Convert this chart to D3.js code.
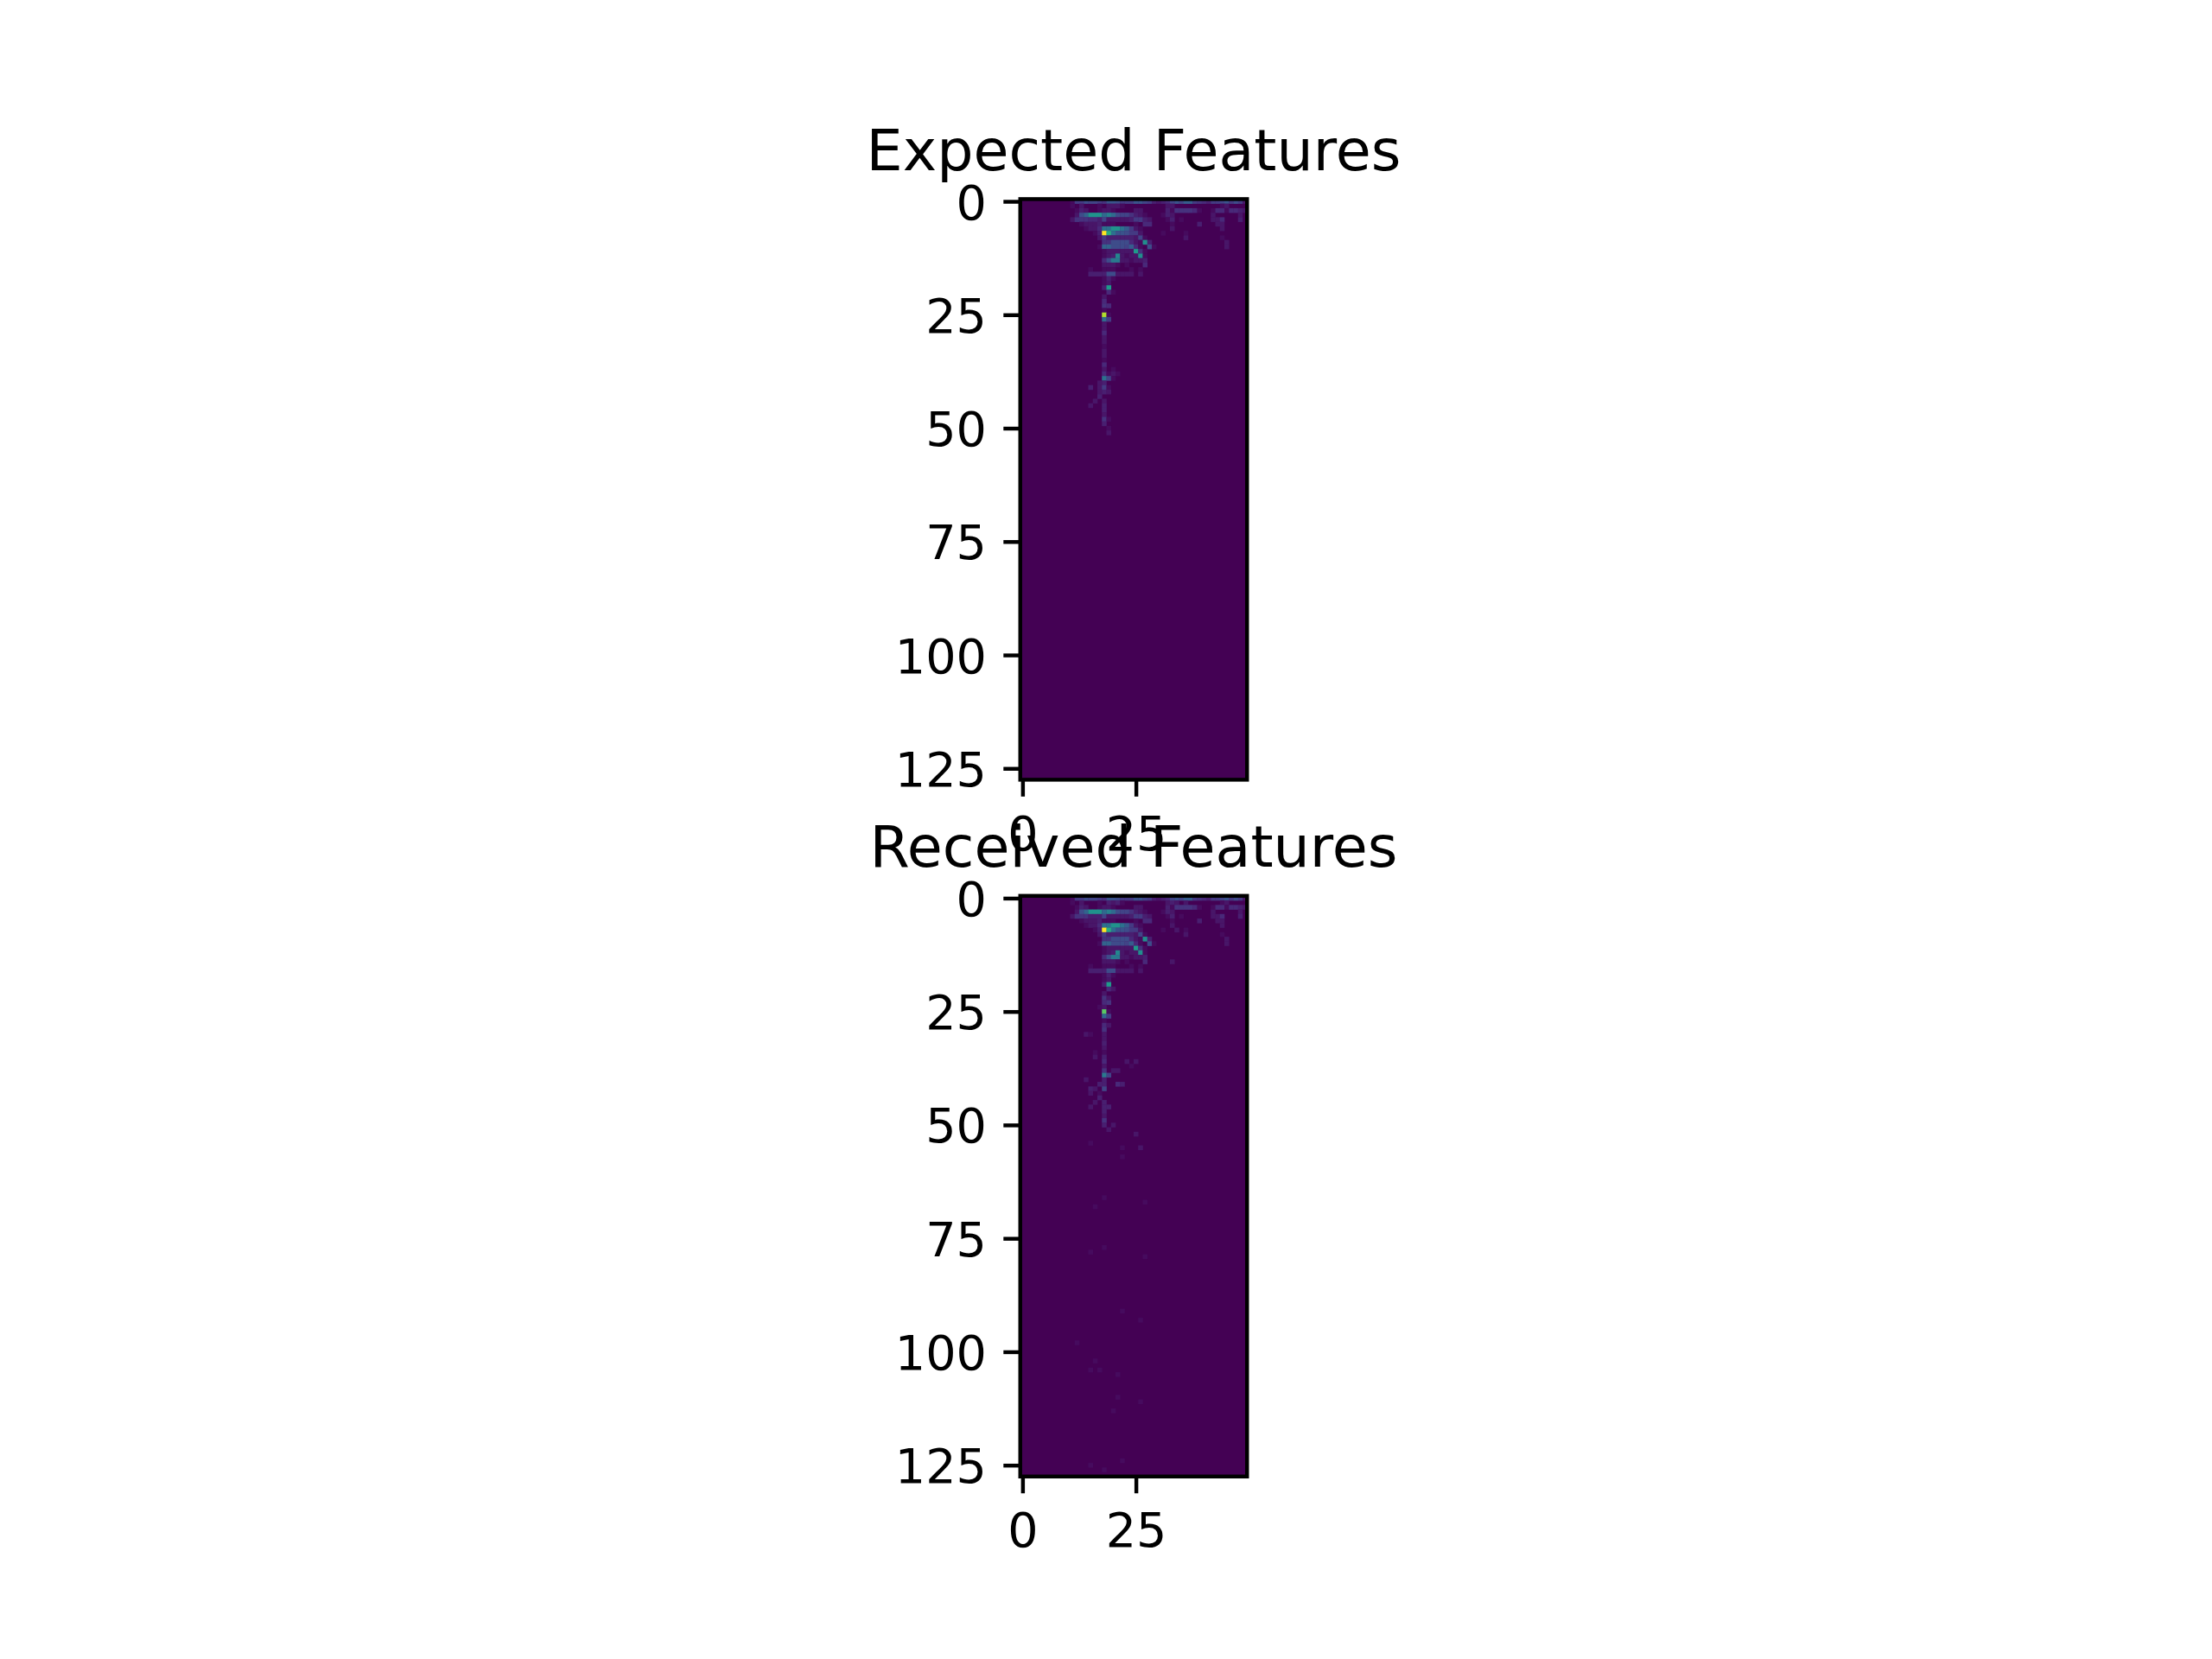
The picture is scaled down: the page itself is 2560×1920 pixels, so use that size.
<!DOCTYPE html>
<html>
<head>
<meta charset="utf-8">
<script src="https://cdn.jsdelivr.net/npm/d3@7"></script>
<style>
  html, body { margin: 0; padding: 0; background: #fff; }
  svg { display: block; }
</style>
</head>
<body>
<div id="chart"></div>
<script>
// cell levels are base-36 digits: 0 = darkest, z (35) = brightest
// rows 0-19 written out in full (5 groups of 10 columns), rows below as [row, col, level]
const expectedTop = [
  "0000000000 0166877659 9866699763 234797aa65 4366796862",
  "0000000000 0102000102 2210000000 0022000000 0000120000",
  "0000000000 0013200122 1000022000 0031555541 0014414432",
  "0000000000 0028biiicf c877532100 0132000000 0020000020",
  "0000000000 0255544372 2222366320 0013010000 0022400030",
  "0000000000 0001222311 1000010440 0001000003 0002200000",
  "0000000000 00001224dd iida621000 0002000000 0000200000",
  "0000000000 00000013zm d998662000 0100001000 0000000000",
  "0000000000 0000000263 3333327100 0000002000 0000100000",
  "0000000000 0000000055 8888421h30 0000000000 0000020000",
  "0000000000 00000001bb 8887a41081 0000000000 0000020000",
  "0000000000 0000000012 22222j5100 0000000000 0000000000",
  "0000000000 0000000012 3g2122h100 0000000000 0000000000",
  "0000000000 0000000048 ee22122300 0000000000 0000000000",
  "0000000000 0000000022 2101000400 0000000000 0000000000",
  "0000000000 0000010011 1000101000 0000000000 0000000000",
  "0000000000 0000033338 8222202000 0000000000 0000000000",
  "0000000000 0000000013 1000000000 0000000000 0000000000",
  "0000000000 0000000012 0000000000 0000000000 0000000000",
  "0000000000 000000003j 0000000000 0000000000 0000000000"
];
const expectedSparse = [
  [20,19,4],[20,20,1],[21,18,2],[22,18,4],[23,18,5],[23,19,4],[24,18,1],
  [25,18,31],[25,19,1],[26,18,12],[26,19,6],[27,18,2],[28,18,2],[29,18,4],
  [30,18,2],[31,18,2],[32,18,1],[33,18,2],[34,18,2],[35,18,1],[36,18,4],
  [37,18,2],[37,20,1],[38,18,4],[38,19,1],[38,20,2],[38,21,1],
  [39,18,13],[39,19,7],[39,20,1],[40,17,2],[40,18,3],
  [41,15,3],[41,17,2],[41,18,6],[41,19,1],[42,17,2],[42,18,3],[42,19,2],
  [43,17,3],[44,16,2],[44,18,2],[45,15,2],[45,18,3],[46,18,3],[47,18,2],
  [48,18,5],[48,19,1],[49,18,3],[50,19,1],[51,19,2]
];

const receivedTop = [
  "0000000000 0166877659 9866699763 234797aa65 4366796862",
  "0000000000 0102000103 2310000000 0023202000 0000120000",
  "0000000000 0013200122 1000022000 0031555541 0014414432",
  "0000000000 0028biiicf c877532100 0132000000 0020000020",
  "0000000000 0255533372 2222366320 0013010000 0022400030",
  "0000000000 0001222311 1000010440 0001000003 0002200000",
  "0000000000 00001224dd iida621000 0002000000 0000200000",
  "0000000000 00000013zm d998662000 0100201000 0000000000",
  "0000000000 0000000263 3333327100 0000002000 0000100000",
  "0000000000 0000000055 8888421h30 0000000000 0000020000",
  "0000000000 00000001bb 8887a41081 0000000000 0000020000",
  "0000000000 0000000012 22222j5100 0000000000 0000000000",
  "0000000000 0000000012 3g2122h100 0000000000 0000000000",
  "0000000000 0000000048 ee22122300 0000000000 0000000000",
  "0000000000 0000000022 2101000400 0002000000 0000000000",
  "0000000000 0000010011 1000101000 0000000000 0000000000",
  "0000000000 0000033338 8222202000 0000000000 0000000000",
  "0000000000 0000000013 1000000000 0000000000 0000000000",
  "0000000000 0000000012 0000000000 0000000000 0000000000",
  "0000000000 000000003j 0000000000 0000000000 0000000000"
];
const receivedSparse = [
  [20,19,4],[20,20,2],[21,18,2],[22,18,5],[22,19,2],[23,18,4],[23,19,5],
  [24,17,1],[24,18,2],[25,18,26],[25,19,1],[26,18,12],[26,19,6],[27,18,1],
  [28,18,4],[28,19,2],[29,18,5],[30,14,2],[30,15,1],[30,18,2],[31,18,2],
  [32,18,3],[33,18,2],[34,16,1],[34,18,1],[35,16,2],[35,18,3],
  [36,18,4],[36,23,2],[36,25,2],[37,18,2],[37,24,1],[38,18,5],[38,20,2],[38,21,2],
  [39,18,14],[39,19,7],[40,14,2],[40,18,3],[41,17,3],[41,18,3],[41,21,4],[41,22,3],
  [42,15,3],[42,16,2],[42,18,7],[43,15,2],[43,17,1],[44,17,3],[45,16,2],[45,18,3],
  [46,15,2],[46,18,3],[46,19,3],[47,18,3],[48,18,2],[49,18,5],[50,18,3],[50,20,2],
  [51,19,2],[52,25,2],[54,15,1],[55,22,1],[55,26,2],[57,22,1],
  [66,18,1],[67,27,1],[68,16,1],[77,18,1],[78,15,1],[79,27,1],[91,22,1],
  [93,26,1],[98,12,1],[102,16,1],[104,15,1],[104,17,1],[105,21,1],[110,21,1],
  [111,26,1],[113,20,1],[124,22,1],[125,15,1],[126,18,1]
];

const titles = ["Expected Features", "Received Features"];
const yTicks = [0, 25, 50, 75, 100, 125];
const xTicks = [0, 25];

const width = 2560, height = 1920;
const pt = 400 / 72;
const nRows = 128, nCols = 50;
const maxLevel = 35;

function buildGrid(top, sparse) {
  const grid = d3.range(nRows).map(() => new Array(nCols).fill(0));
  top.forEach((row, r) => {
    row.replace(/ /g, "").split("").forEach((ch, c) => { grid[r][c] = parseInt(ch, 36); });
  });
  sparse.forEach(([r, c, v]) => { grid[r][c] = v; });
  return grid;
}

const panels = [
  { title: titles[0], grid: buildGrid(expectedTop, expectedSparse), top: 230.4 },
  { title: titles[1], grid: buildGrid(receivedTop, receivedSparse), top: 1036.8 }
];

const panelH = 672;
const panelW = panelH * nCols / nRows;
const panelLeft = 1312 - panelW / 2;

const color = d3.scaleSequential(d3.interpolateViridis).domain([0, maxLevel]);

const svg = d3.select("#chart").append("svg")
  .attr("width", width)
  .attr("height", height)
  .attr("viewBox", `0 0 ${width} ${height}`);

svg.append("rect").attr("width", width).attr("height", height).attr("fill", "#fff");

panels.forEach((p) => {
  const x = d3.scaleLinear().domain([-0.5, nCols - 0.5]).range([panelLeft, panelLeft + panelW]);
  const y = d3.scaleLinear().domain([-0.5, nRows - 0.5]).range([p.top, p.top + panelH]);
  const cw = x(0.5) - x(-0.5);
  const ch = y(0.5) - y(-0.5);

  const g = svg.append("g");

  const cells = [];
  p.grid.forEach((row, r) => row.forEach((v, c) => cells.push({ r, c, v })));

  g.append("rect")
    .attr("x", x(-0.5)).attr("y", y(-0.5))
    .attr("width", panelW).attr("height", panelH)
    .attr("fill", color(0));

  g.selectAll("rect.cell")
    .data(cells.filter((d) => d.v > 0))
    .join("rect")
    .attr("class", "cell")
    .attr("x", (d) => x(d.c - 0.5))
    .attr("y", (d) => y(d.r - 0.5))
    .attr("width", cw + 0.3)
    .attr("height", ch + 0.3)
    .attr("fill", (d) => color(d.v));

  /** axes **/
  g.append("g")
    .attr("transform", `translate(${panelLeft},0)`)
    .call(d3.axisLeft(y).tickValues(yTicks).tickSize(3.5 * pt).tickPadding(3.5 * pt))
    .attr("font-family", "DejaVu Sans")
    .attr("font-size", 10 * pt)
    .call((a) => {
      a.select(".domain").remove();
      a.selectAll("line").attr("stroke", "#000").attr("stroke-width", 0.8 * pt);
      a.selectAll("text").attr("fill", "#000").attr("dy", "0.36em");
    });

  g.append("g")
    .attr("transform", `translate(0,${p.top + panelH})`)
    .call(d3.axisBottom(x).tickValues(xTicks).tickSize(3.5 * pt).tickPadding(3.5 * pt))
    .attr("font-family", "DejaVu Sans")
    .attr("font-size", 10 * pt)
    .call((a) => {
      a.select(".domain").remove();
      a.selectAll("line").attr("stroke", "#000").attr("stroke-width", 0.8 * pt);
      a.selectAll("text").attr("fill", "#000").attr("dy", "0.76em");
    });

  // frame
  g.append("rect")
    .attr("x", x(-0.5)).attr("y", y(-0.5))
    .attr("width", panelW).attr("height", panelH)
    .attr("fill", "none")
    .attr("stroke", "#000")
    .attr("stroke-width", 0.8 * pt);

  g.append("text")
    .attr("x", panelLeft + panelW / 2)
    .attr("y", p.top - 6 * pt)
    .attr("text-anchor", "middle")
    .attr("font-family", "DejaVu Sans")
    .attr("font-size", 12 * pt)
    .attr("fill", "#000")
    .text(p.title);
});
</script>
</body>
</html>
